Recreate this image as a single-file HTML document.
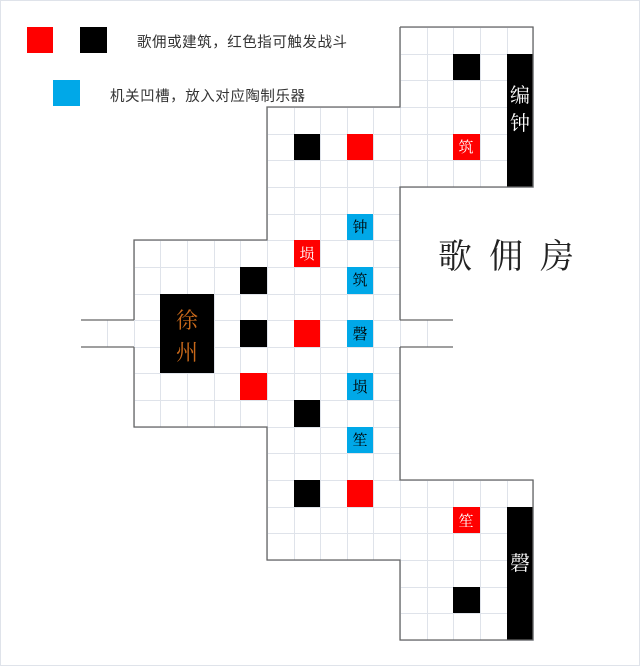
<!DOCTYPE html>
<html><head><meta charset="utf-8"><style>
html,body{margin:0;padding:0;background:#fff;}
svg{display:block;}
</style></head><body>
<svg id="s" width="640" height="666" xmlns="http://www.w3.org/2000/svg" font-family="'Liberation Sans','Noto Sans CJK SC',sans-serif">
<rect x="0.5" y="0.5" width="639" height="665" fill="#fff" stroke="#dfe3ea"/>
<g id="grid" stroke="#dfe3ea" stroke-width="1" fill="none"></g>
<path d="M107.5,320 V347 M427.5,320 V347" stroke="#dfe3ea"/>
<g id="items"></g>
<!-- outline -->
<path d="M400,27 H533 V187 H400 V320 M400,347 V480 H533 V640 H400 V560 H267 V427 H134 V347 M134,320 V240 H267 V107 H400 V27" fill="none" stroke="#666" stroke-width="1.3"/>
<path d="M81,320 H134 M81,347 H134 M400,320 H453 M400,347 H453" stroke="#666" stroke-width="1.3"/>
<!-- legend -->
<rect x="27" y="27" width="26" height="26" fill="#ff0000"/>
<rect x="80" y="27" width="27" height="26" fill="#000"/>
<rect x="53" y="80" width="27" height="26" fill="#00a8e8"/>
<text x="137" y="47" font-size="14.5" fill="#333" textLength="210">歌佣或建筑，红色指可触发战斗</text>
<text x="110" y="101" font-size="14.5" fill="#333" textLength="195">机关凹槽，放入对应陶制乐器</text>
<text x="438" y="268" font-size="34" fill="#222" font-family="'Liberation Serif','Noto Serif CJK SC',serif" letter-spacing="17">歌佣房</text>
<g font-family="'Liberation Serif','Noto Serif CJK SC',serif">
<text x="520" y="102" font-size="20" fill="#fff" text-anchor="middle">编</text>
<text x="520" y="130" font-size="20" fill="#fff" text-anchor="middle">钟</text>
<text x="520" y="570" font-size="20" fill="#fff" text-anchor="middle">磬</text>
<text x="187" y="328" font-size="22" fill="#c8681a" text-anchor="middle">徐</text>
<text x="187" y="360" font-size="22" fill="#c8681a" text-anchor="middle">州</text>
</g>
<g font-size="15" text-anchor="middle" font-family="'Liberation Serif','Noto Serif CJK SC',serif">
<text x="466" y="152" fill="#fff">筑</text>
<text x="307" y="259" fill="#fff">埙</text>
<text x="466" y="526" fill="#fff">笙</text>
<text x="360" y="232" fill="#000">钟</text>
<text x="360" y="285" fill="#000">筑</text>
<text x="360" y="339" fill="#000">磬</text>
<text x="360" y="392" fill="#000">埙</text>
<text x="360" y="445" fill="#000">笙</text>
</g>
</svg>
<script>
var W=26.65,O=27;function X(c){return Math.round(O+W*c)}
var g=document.getElementById('grid'),it=document.getElementById('items'),ns='http://www.w3.org/2000/svg';
function cells(c0,c1,r0,r1){for(var c=c0;c<=c1;c++)for(var r=r0;r<=r1;r++){var e=document.createElementNS(ns,'rect');e.setAttribute('x',X(c)+0.5);e.setAttribute('y',X(r)+0.5);e.setAttribute('width',X(c+1)-X(c));e.setAttribute('height',X(r+1)-X(r));g.appendChild(e);}}
cells(14,18,0,5);cells(9,13,3,19);cells(4,8,8,14);cells(14,18,17,22);
function box(c,r,w,h,col){var e=document.createElementNS(ns,'rect');e.setAttribute('x',X(c));e.setAttribute('y',X(r));e.setAttribute('width',X(c+w)-X(c));e.setAttribute('height',X(r+h)-X(r));e.setAttribute('fill',col);it.appendChild(e);}
var K='#000',R='#ff0000',B='#00a8e8';
box(16,1,1,1,K);box(18,1,1,5,K);box(10,4,1,1,K);box(12,4,1,1,R);box(16,4,1,1,R);
box(12,7,1,1,B);box(10,8,1,1,R);box(8,9,1,1,K);box(12,9,1,1,B);
box(5,10,2,3,K);box(8,11,1,1,K);box(10,11,1,1,R);box(12,11,1,1,B);
box(8,13,1,1,R);box(12,13,1,1,B);box(10,14,1,1,K);box(12,15,1,1,B);
box(10,17,1,1,K);box(12,17,1,1,R);box(16,18,1,1,R);box(18,18,1,5,K);box(16,21,1,1,K);
</script>
</body></html>
